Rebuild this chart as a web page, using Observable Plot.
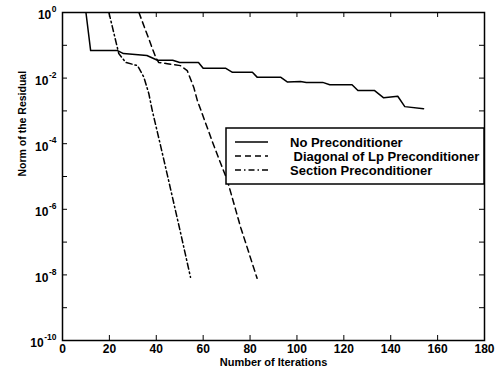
<!DOCTYPE html>
<html>
<head>
<meta charset="utf-8">
<script src="https://cdn.jsdelivr.net/npm/d3@7"></script>
<script src="https://cdn.jsdelivr.net/npm/@observablehq/plot@0.6"></script>
<style>
  html, body { margin: 0; padding: 0; background: #fff; }
  #wrap { position: relative; width: 497px; height: 374px; }
  #wrap > svg { position: absolute; left: 0; top: 0; }
</style>
</head>
<body>
<div id="wrap"></div>
<script>
// ---- data ----
const seriesNames = ["No Preconditioner", " Diagonal of Lp Preconditioner", "Section Preconditioner"];

const iterNone = [10, 12, 23.5, 26, 36, 40.5, 47, 50, 58, 60, 69.5, 72.5, 81, 83, 93, 96, 101.5, 104, 111, 114, 123.5, 126, 133, 137, 143, 146, 154];
const resNone  = [1, 0.069, 0.069, 0.056, 0.049, 0.035, 0.035, 0.030, 0.030, 0.020, 0.020, 0.015, 0.015, 0.0107, 0.0107, 0.0076, 0.0079, 0.0074, 0.0074, 0.0063, 0.0063, 0.0042, 0.0042, 0.0025, 0.0028, 0.00135, 0.00117];

const iterDiag = [32.6, 39.7, 41, 44.7, 50.3, 53.2, 56, 57.5, 64.5, 70.3, 76, 83];
const resDiag  = [1, 0.044, 0.030, 0.0275, 0.024, 0.017, 0.0052, 0.0021, 8.9e-5, 7.6e-6, 2.8e-7, 7.9e-9];

const iterSect = [19.8, 24, 27, 32, 34.7, 36.8, 38.3, 41.8, 45.2, 50, 54.6];
const resSect  = [1, 0.056, 0.030, 0.024, 0.0107, 0.0034, 0.00102, 8.9e-5, 7.9e-6, 2.5e-7, 8.5e-9];

const xTicks = [0, 20, 40, 60, 80, 100, 120, 140, 160, 180];
const yTickMarks = [1, 1e-1, 1e-2, 1e-3, 1e-4, 1e-5, 1e-6, 1e-7, 1e-8, 1e-9, 1e-10];
const yTickLabels = [1, 1e-2, 1e-4, 1e-6, 1e-8, 1e-10];
const yTickBase = "10";
const yTickExp = ["0", "-2", "-4", "-6", "-8", "-10"];

const xTitle = "Number of Iterations";
const yTitle = "Norm of the Residual";

// ---- build table ----
const toRows = (it, res, s) => it.map((x, i) => ({x, y: res[i], s}));
const rows = [
  ...toRows(iterNone, resNone, seriesNames[0]),
  ...toRows(iterDiag, resDiag, seriesNames[1]),
  ...toRows(iterSect, resSect, seriesNames[2])
];
const dashes = {
  [seriesNames[0]]: null,
  [seriesNames[1]]: "6,4",
  [seriesNames[2]]: "6,3,1.5,3"
};

const W = 497, H = 374, mL = 62, mR = 13, mT = 12, mB = 34;
const innerW = W - mL - mR, innerH = H - mT - mB;
const tickLen = 5;

const font = "'Liberation Sans', Arial, Helvetica, sans-serif";
const expSize = 8.5, baseSize = 12;

// measure exponent widths so the "10" sits just left of its exponent
const ctx = document.createElement("canvas").getContext("2d");
ctx.font = `bold ${expSize}px 'Liberation Sans'`;
const expW = yTickExp.map(e => ctx.measureText(e).width);

const lineMarks = seriesNames.map(name => Plot.line(rows.filter(r => r.s === name), {
  x: "x", y: "y", stroke: "#000", strokeWidth: 1.5,
  strokeDasharray: dashes[name], clip: true
}));

const yLabelMarks = yTickLabels.flatMap((v, i) => [
  Plot.text([v], {y: d => d, frameAnchor: "left", text: () => yTickBase, textAnchor: "end",
    dx: -6 - expW[i] - 0.5, dy: 3, fontSize: baseSize, fontWeight: "bold"}),
  Plot.text([v], {y: d => d, frameAnchor: "left", text: () => yTickExp[i], textAnchor: "end",
    dx: -6, dy: -3, fontSize: expSize, fontWeight: "bold"})
]);

const plot = Plot.plot({
  width: W, height: H,
  marginLeft: mL, marginRight: mR, marginTop: mT, marginBottom: mB,
  style: {fontFamily: font, fontSize: "12px", fontWeight: "bold", background: "#fff", color: "#000"},
  x: {domain: [0, 180], axis: null},
  y: {type: "log", domain: [1e-10, 1], axis: null},
  marks: [
    ...lineMarks,
    // inward ticks on all four sides
    Plot.ruleX(xTicks, {x: d => d, insetTop: innerH - tickLen, stroke: "#000", strokeWidth: 1}),
    Plot.ruleX(xTicks, {x: d => d, insetBottom: innerH - tickLen, stroke: "#000", strokeWidth: 1}),
    Plot.ruleY(yTickMarks, {y: d => d, insetRight: innerW - tickLen, stroke: "#000", strokeWidth: 1}),
    Plot.ruleY(yTickMarks, {y: d => d, insetLeft: innerW - tickLen, stroke: "#000", strokeWidth: 1}),
    Plot.text(xTicks, {x: d => d, text: d => String(d), frameAnchor: "bottom", dy: 12, fontSize: 12, fontWeight: "bold"}),
    ...yLabelMarks,
    Plot.frame({stroke: "#000", strokeWidth: 1.5}),
    Plot.text([xTitle], {text: d => d, frameAnchor: "bottom", dy: 25, fontSize: 11, fontWeight: "bold"}),
    Plot.text([yTitle], {text: d => d, frameAnchor: "left", dx: -40, rotate: -90, fontSize: 10.5, fontWeight: "bold"})
  ]
});

const wrap = document.getElementById("wrap");
wrap.appendChild(plot);

// ---- legend overlay ----
const legend = d3.select(wrap).append("svg")
  .attr("width", W).attr("height", H)
  .style("pointer-events", "none");
const lx = 226, ly = 128, lw = innerW + mL - 226, lh = 56;
legend.append("rect").attr("x", lx).attr("y", ly).attr("width", lw).attr("height", lh)
  .attr("fill", "#fff").attr("stroke", "#000").attr("stroke-width", 1.5);
seriesNames.forEach((name, i) => {
  const cy = ly + 14 + i * 14;
  legend.append("line").attr("x1", lx + 9).attr("x2", lx + 42).attr("y1", cy).attr("y2", cy)
    .attr("stroke", "#000").attr("stroke-width", 1.3)
    .attr("stroke-dasharray", dashes[name] || null);
  legend.append("text").attr("x", lx + 64).attr("y", cy).attr("dy", "0.35em")
    .attr("font-family", font).attr("font-size", 13).attr("font-weight", "bold")
    .attr("xml:space", "preserve").style("white-space", "pre")
    .text(name);
});
</script>
</body>
</html>
